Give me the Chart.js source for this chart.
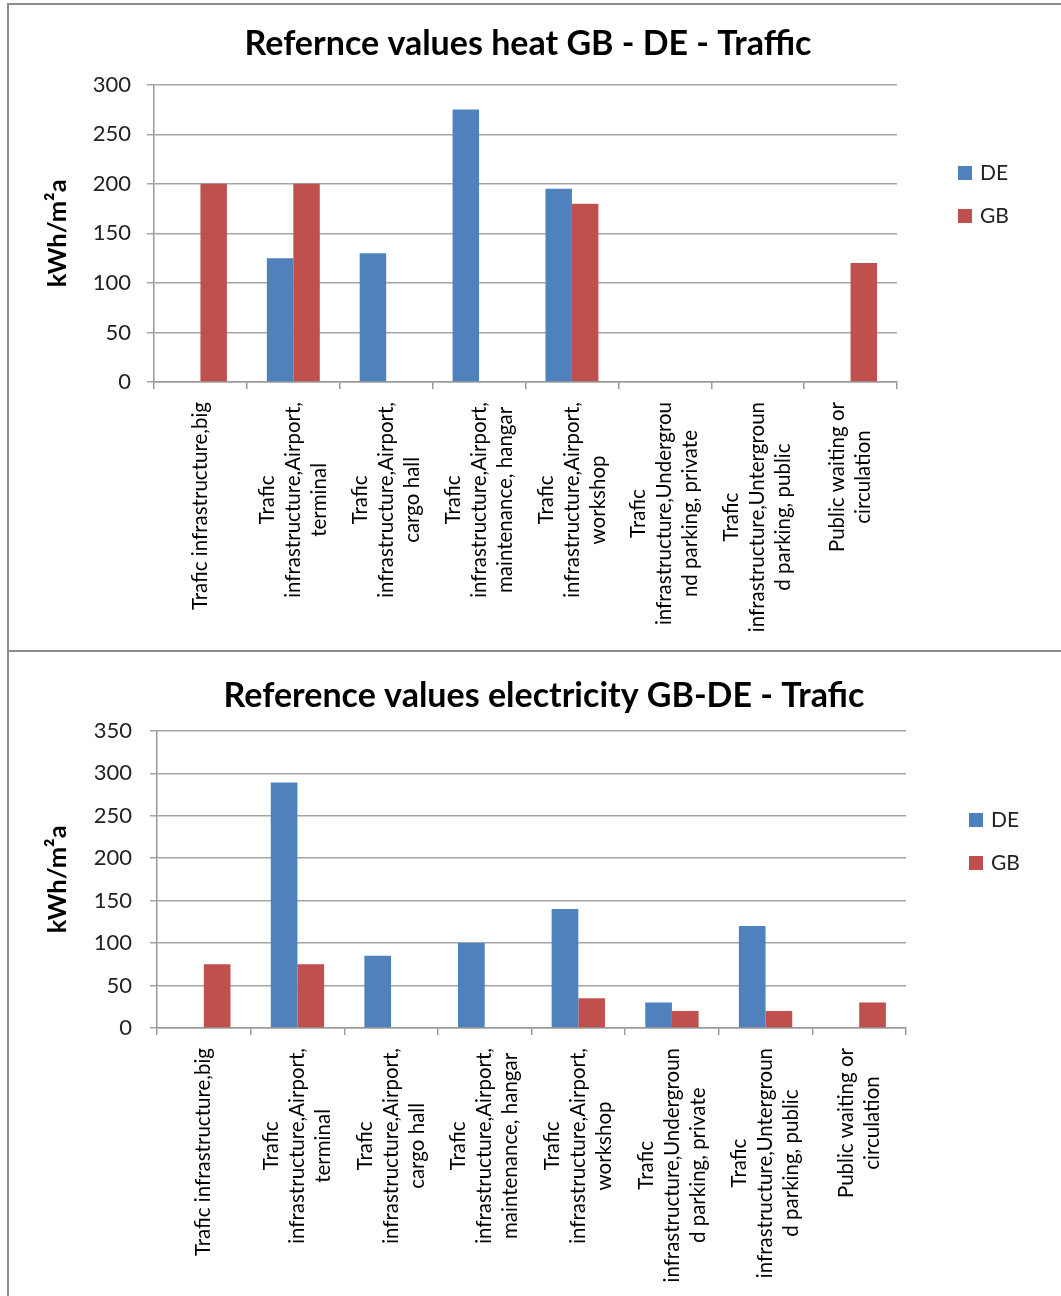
<!DOCTYPE html>
<html>
<head>
<meta charset="utf-8">
<script src="https://cdn.jsdelivr.net/npm/chart.js@4.4.1/dist/chart.umd.min.js"></script>
<style>
  body { margin: 0; background: #fff; width: 1061px; height: 1296px; overflow: hidden; position: relative; font-family: Lato, sans-serif; }
  .box { position: absolute; left: 7px; width: 1100px; border: 2px solid #8c8c8c; border-right: none; background: #fff; overflow: hidden; }
  #box1 { top: 3px; height: 645px; border-bottom: none; }
  #box2 { top: 650px; height: 700px; }
  canvas { position: absolute; left: 0; top: 0; }
  .legend { position: absolute; font: 21px Lato, sans-serif; color: #222; }
  .legend .item { position: absolute; left: 0; white-space: nowrap; line-height: 24px; height: 24px; }
  .legend .sw { display: inline-block; width: 14px; height: 14px; vertical-align: middle; margin-right: 8px; position: relative; top: -2px; }
</style>
</head>
<body>
<div class="box" id="box1"><canvas id="heat" width="1038" height="645"></canvas></div>
<div class="box" id="box2"><canvas id="elec" width="1070" height="644"></canvas></div>
<div class="legend" id="legend1" style="left:958px; top:160px;"></div>
<div class="legend" id="legend2" style="left:969px; top:807px;"></div>
<script>
// categories (one array of lines per label, wrapped as in the original)
const heatLabels = [
  ['Trafic infrastructure,big'],
  ['Trafic', 'infrastructure,Airport,', 'terminal'],
  ['Trafic', 'infrastructure,Airport,', 'cargo hall'],
  ['Trafic', 'infrastructure,Airport,', 'maintenance, hangar'],
  ['Trafic', 'infrastructure,Airport,', 'workshop'],
  ['Trafic', 'infrastructure,Undergrou', 'nd parking, private'],
  ['Trafic', 'infrastructure,Untergroun', 'd parking, public'],
  ['Public waiting or', 'circulation']
];
const elecLabels = [
  ['Trafic infrastructure,big'],
  ['Trafic', 'infrastructure,Airport,', 'terminal'],
  ['Trafic', 'infrastructure,Airport,', 'cargo hall'],
  ['Trafic', 'infrastructure,Airport,', 'maintenance, hangar'],
  ['Trafic', 'infrastructure,Airport,', 'workshop'],
  ['Trafic', 'infrastructure,Undergroun', 'd parking, private'],
  ['Trafic', 'infrastructure,Untergroun', 'd parking, public'],
  ['Public waiting or', 'circulation']
];

// series values, kWh/m²a
const heatDE = [null, 125, 130, 275, 195, null, null, null];
const heatGB = [200, 200, null, null, 180, null, null, 120];
const elecDE = [null, 289, 85, 100, 140, 30, 120, null];
const elecGB = [75, 75, null, null, 35, 20, 20, 30];

const seriesNames = ['DE', 'GB'];
const seriesColors = ['#4F81BD', '#C0504D'];

const heatTitle = 'Refernce values heat GB - DE - Traffic';
const elecTitle = 'Reference values electricity GB-DE - Trafic';
const yTitle = 'kWh/m²a';

// rotated, centre-aligned multi-line category labels under the x axis
const multiLineLabels = {
  id: 'multiLineLabels',
  afterDraw(chart) {
    const x = chart.scales.x;
    const ctx = chart.ctx;
    ctx.save();
    ctx.font = '20.5px Lato, sans-serif';
    ctx.fillStyle = '#000';
    ctx.textAlign = 'center';
    ctx.textBaseline = 'middle';
    const lh = 26;
    const top = x.top + 20;
    chart.data.labels.forEach((lines, i) => {
      const w = Math.max(...lines.map(l => ctx.measureText(l).width));
      ctx.save();
      ctx.translate(x.getPixelForValue(i), top + w / 2);
      ctx.rotate(-Math.PI / 2);
      lines.forEach((line, j) => ctx.fillText(line, 0, (j - (lines.length - 1) / 2) * lh));
      ctx.restore();
    });
    ctx.restore();
  }
};

function makeChart(id, labels, de, gb, title, o) {
  return new Chart(id, {
    type: 'bar',
    data: {
      labels: labels,
      datasets: [
        { label: seriesNames[0], data: de, backgroundColor: seriesColors[0] },
        { label: seriesNames[1], data: gb, backgroundColor: seriesColors[1] }
      ]
    },
    options: {
      responsive: false,
      animation: false,
      devicePixelRatio: 1,
      categoryPercentage: 0.57,
      barPercentage: 1.0,
      layout: { padding: 0 },
      plugins: {
        legend: { display: false },
        tooltip: { enabled: false },
        title: {
          display: true,
          text: title,
          color: '#000',
          font: { family: 'Lato', size: 34, weight: 'bold', lineHeight: 1.2 },
          padding: { top: o.titleTop, bottom: o.titleBottom }
        }
      },
      scales: {
        x: {
          grid: { display: true, drawOnChartArea: false, drawTicks: true, tickLength: 7, color: '#999', lineWidth: 1.5 },
          border: { display: true, color: '#999', width: 1.5 },
          ticks: { display: false },
          afterFit: s => { s.height = 268; }
        },
        y: {
          min: 0,
          max: o.yMax,
          ticks: { stepSize: 50, color: '#222', padding: o.tickPad, font: { family: 'Lato', size: 22 } },
          grid: { color: '#a5a5a5', lineWidth: 1.5, tickLength: 7 },
          border: { display: true, color: '#999', width: 1.5 },
          title: {
            display: true,
            text: yTitle,
            color: '#000',
            font: { family: 'Lato', size: 25.5, weight: 'bold', lineHeight: 1.2 },
            padding: { top: 33, bottom: 0 }
          },
          afterFit: s => { s.width = o.yWidth; }
        },
        // empty space to the right of the plot, where the legend sits
        side: {
          type: 'linear',
          position: 'right',
          display: true,
          grid: { display: false },
          border: { display: false },
          ticks: { display: false },
          afterFit: s => { s.width = o.sideWidth; }
        }
      }
    },
    plugins: [multiLineLabels]
  });
}

function buildLegend(elId) {
  const el = document.getElementById(elId);
  seriesNames.forEach((name, i) => {
    const item = document.createElement('div');
    item.className = 'item';
    item.style.top = (i * 43) + 'px';
    item.innerHTML = '<span class="sw" style="background:' + seriesColors[i] + '"></span>' + name;
    el.appendChild(item);
  });
}

function draw() {
  makeChart('heat', heatLabels, heatDE, heatGB, heatTitle,
    { yMax: 300, yWidth: 145, sideWidth: 150, titleTop: 19, titleBottom: 20, tickPad: 16 });
  makeChart('elec', elecLabels, elecDE, elecGB, elecTitle,
    { yMax: 350, yWidth: 148, sideWidth: 173, titleTop: 24, titleBottom: 14, tickPad: 18 });
  buildLegend('legend1');
  buildLegend('legend2');
}

if (document.fonts && document.fonts.load) {
  Promise.all([
    document.fonts.load('20px Lato'),
    document.fonts.load('bold 34px Lato')
  ]).then(draw, draw);
} else {
  draw();
}
</script>
</body>
</html>
